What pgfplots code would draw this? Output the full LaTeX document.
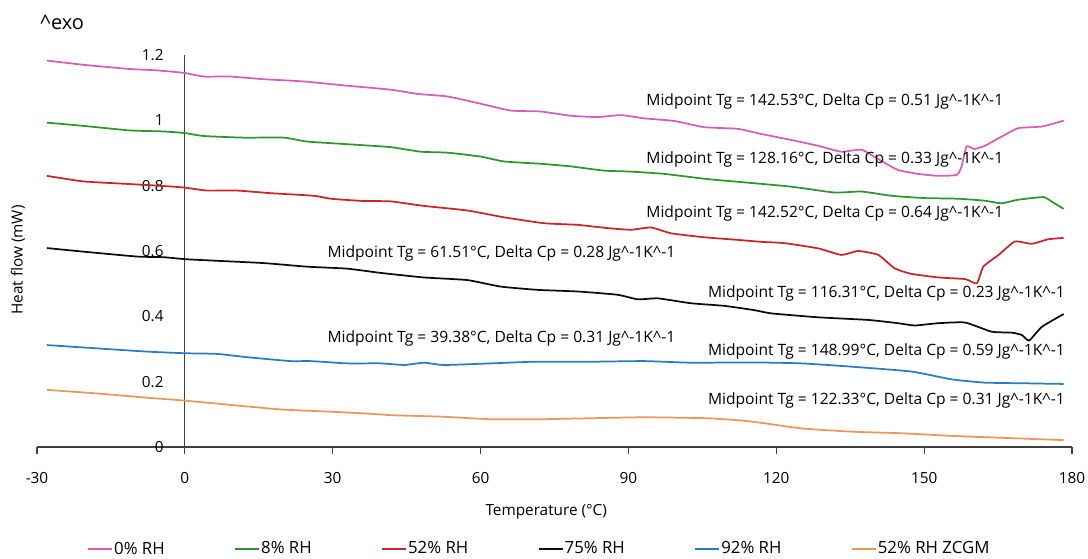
\documentclass[border=0pt]{standalone}
\usepackage{fontspec}
\setmainfont{Open Sans}
\usepackage{pgfplots}
\pgfplotsset{compat=1.18}

\definecolor{cPink}{RGB}{214,92,188}
\definecolor{cGreen}{RGB}{44,150,44}
\definecolor{cRed}{RGB}{204,34,40}
\definecolor{cBlack}{RGB}{12,12,12}
\definecolor{cBlue}{RGB}{36,126,192}
\definecolor{cOrange}{RGB}{236,150,92}
\definecolor{axisgray}{RGB}{64,64,64}

\newcommand{\txt}{\fontsize{11.5}{13}\selectfont}
\newcommand{\annot}{\fontsize{11.7}{13}\selectfont}
\newcommand{\legtxt}{\fontsize{12.6}{14}\selectfont}

\begin{document}
\begin{tikzpicture}
\useasboundingbox (-27.75pt,-84pt) rectangle (788.25pt,335.25pt);
\begin{axis}[
  scale only axis, width=776.25pt, height=294pt,
  xmin=-30, xmax=180, ymin=0, ymax=1.2,
  axis x line=bottom, axis y line=center,
  hide obscured x ticks=false, hide obscured y ticks=false,
  axis line style={-, axisgray, line width=0.9pt},
  x axis line style={-}, y axis line style={-},
  xtick={-30,0,30,60,90,120,150,180},
  xticklabels={-30,0,30,60,90,120,150,180},
  ytick={0,0.2,0.4,0.6,0.8,1,1.2},
  yticklabels={0,0.2,0.4,0.6,0.8,1,1.2},
  tick align=outside, major tick length=5.25pt,
  xtick style={axisgray, line width=0.9pt},
  ytick style={draw=none},
  xticklabel style={anchor=center, inner sep=0pt, font=\txt},
  xticklabel shift=18pt,
  yticklabel style={anchor=east, inner sep=0pt, font=\txt},
  yticklabel shift=10.5pt,
  xlabel={Temperature (°C)},
  ylabel={Heat flow (mW)},
  every axis x label/.style={at={(axis description cs:0.492,-0.1658)}, anchor=center, font=\txt},
  every axis y label/.style={at={(axis description cs:-0.0184,0.477)}, anchor=center, rotate=90, font=\txt},
  legend columns=6,
  legend image code/.code={\draw[#1] (0pt,0pt) -- (18pt,0pt);},
  legend style={at={(axis description cs:0.485,-0.260)}, anchor=center,
    draw=none, fill=none, font=\legtxt, inner sep=0pt,
    nodes={inner sep=1pt},
    /tikz/every even column/.append style={column sep=51pt}},
  clip=false,
  no markers,
  every axis plot/.append style={line width=1.3pt, smooth, tension=0.3},
]

% 0% RH
\addplot[cPink] coordinates {
(-28,1.183) (-20.6,1.170) (-11.1,1.157) (-5.7,1.153) (0,1.145) (3.8,1.134) (9.2,1.134)
(15.9,1.126) (24.1,1.119) (32.9,1.106) (41.7,1.094) (47.2,1.081) (53.3,1.073) (59.4,1.053)
(66.1,1.030) (72.2,1.027) (78.3,1.014) (83.8,1.010) (88.5,1.016) (93.2,1.006) (99.3,0.998)
(105.4,0.979) (112.2,0.974) (117.0,0.958) (123.0,0.940) (128.5,0.922) (133.2,0.904)
(137.3,0.910) (140.7,0.881) (144.7,0.848) (148.8,0.836) (152.9,0.830) (156.6,0.833)
(157.6,0.859) (158.6,0.920) (160.2,0.912) (162.3,0.922) (165.7,0.950) (169.1,0.976)
(173.9,0.981) (178.3,0.999)};
\addlegendentry{0\% RH}

% 8% RH
\addplot[cGreen] coordinates {
(-28,0.993) (-20.6,0.983) (-11.1,0.969) (-4.3,0.966) (0,0.961) (3.8,0.952) (11.9,0.947)
(20.1,0.947) (24.8,0.935) (32.9,0.927) (41.7,0.918) (47.8,0.904) (53.3,0.901) (60.0,0.889)
(64.8,0.874) (72.2,0.867) (78.3,0.859) (85.1,0.846) (90.5,0.843) (97.3,0.836) (106.1,0.820)
(113.6,0.810) (123.0,0.797) (131.8,0.779) (137.3,0.782) (143.4,0.769) (150.1,0.762)
(156.9,0.760) (162.3,0.754) (165.7,0.746) (169.1,0.757) (174.2,0.765) (175.9,0.751)
(178.3,0.729)};
\addlegendentry{8\% RH}

% 52% RH
\addplot[cRed] coordinates {
(-28,0.830) (-20.6,0.813) (-12.5,0.806) (-4.3,0.799) (0,0.794) (4.5,0.785) (10.6,0.785)
(17.4,0.777) (26.2,0.769) (29.6,0.760) (36.3,0.753) (41.7,0.752) (48.5,0.738) (57.3,0.724)
(64.8,0.703) (72.9,0.685) (79.7,0.680) (85.8,0.670) (90.5,0.665) (94.6,0.672) (98.7,0.654)
(105.4,0.642) (112.2,0.634) (117.0,0.628) (121.7,0.624) (128.5,0.608) (133.2,0.588)
(136.6,0.600) (140.7,0.588) (144.0,0.547) (147.4,0.530) (152.9,0.519) (158.3,0.514)
(160.7,0.501) (162.0,0.552) (165.1,0.588) (168.4,0.629) (171.8,0.622) (175.2,0.636)
(178.3,0.640)};
\addlegendentry{52\% RH}

% 75% RH
\addplot[cBlack] coordinates {
(-28,0.609) (-20.6,0.598) (-9.7,0.583) (-4.3,0.581) (0,0.575) (6.5,0.570) (16.0,0.563)
(24.8,0.552) (32.9,0.546) (39.7,0.533) (48.5,0.519) (57.3,0.511) (64.1,0.491) (71.6,0.481)
(79.7,0.476) (87.8,0.466) (91.9,0.452) (96.0,0.455) (102.7,0.440) (109.5,0.432)
(115.5,0.419) (119.0,0.409) (128.5,0.397) (138.6,0.389) (144.7,0.379) (148.1,0.372)
(152.9,0.379) (158.3,0.381) (163.7,0.353) (167.8,0.350) (169.8,0.343) (171.3,0.326)
(173.9,0.368) (178.3,0.407)};
\addlegendentry{75\% RH}

% 92% RH
\addplot[cBlue] coordinates {
(-28,0.312) (-17.9,0.302) (-7.7,0.292) (0,0.287) (6.5,0.285) (12.6,0.275) (21.4,0.263)
(25.5,0.263) (32.9,0.256) (39.7,0.256) (44.5,0.251) (48.5,0.258) (52.6,0.251) (62.1,0.256)
(70.9,0.261) (82.4,0.261) (93.2,0.263) (102.7,0.258) (115.0,0.259) (125.1,0.256)
(135.2,0.246) (147.4,0.231) (155.6,0.207) (162.3,0.197) (170.5,0.195) (178.3,0.193)};
\addlegendentry{92\% RH}

% 52% RH ZCGM
\addplot[cOrange] coordinates {
(-28,0.175) (-17.9,0.164) (-7.7,0.151) (0,0.142) (9.2,0.129) (19.4,0.115) (29.6,0.108)
(36.3,0.103) (42.5,0.097) (51.9,0.093) (62.1,0.085) (72.2,0.085) (82.4,0.088) (93.2,0.091)
(106.1,0.088) (112.9,0.081) (116.0,0.076) (125.1,0.057) (135.2,0.047) (145.4,0.042)
(155.6,0.034) (167.8,0.027) (178.3,0.021)};
\addlegendentry{52\% RH ZCGM}

% transition annotations
\begin{scope}[every node/.style={anchor=west, inner sep=0pt, font=\annot}]
\node at (axis cs:93.6,1.058) {Midpoint Tg = 142.53°C, Delta Cp = 0.51 Jg\textasciicircum-1K\textasciicircum-1};
\node at (axis cs:93.6,0.879) {Midpoint Tg = 128.16°C, Delta Cp = 0.33 Jg\textasciicircum-1K\textasciicircum-1};
\node at (axis cs:93.6,0.716) {Midpoint Tg = 142.52°C, Delta Cp = 0.64 Jg\textasciicircum-1K\textasciicircum-1};
\node at (axis cs:28.9,0.593) {Midpoint Tg = 61.51°C, Delta Cp = 0.28 Jg\textasciicircum-1K\textasciicircum-1};
\node at (axis cs:106.1,0.471) {Midpoint Tg = 116.31°C, Delta Cp = 0.23 Jg\textasciicircum-1K\textasciicircum-1};
\node at (axis cs:28.9,0.333) {Midpoint Tg = 39.38°C, Delta Cp = 0.31 Jg\textasciicircum-1K\textasciicircum-1};
\node at (axis cs:106.1,0.292) {Midpoint Tg = 148.99°C, Delta Cp = 0.59 Jg\textasciicircum-1K\textasciicircum-1};
\node at (axis cs:106.1,0.144) {Midpoint Tg = 122.33°C, Delta Cp = 0.31 Jg\textasciicircum-1K\textasciicircum-1};
\end{scope}
\node[anchor=west, inner sep=0pt, font=\fontsize{15}{17}\selectfont] at (axis cs:-29.4,1.300) {\textasciicircum exo};
\end{axis}
\end{tikzpicture}
\end{document}
